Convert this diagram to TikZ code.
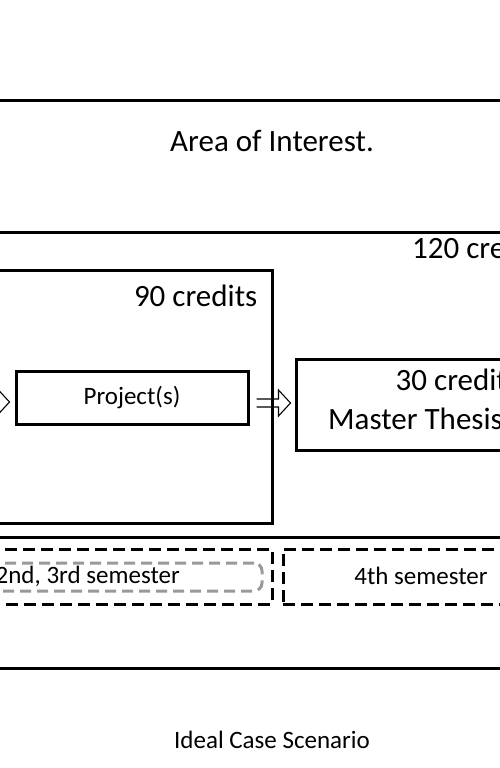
\documentclass[tikz,border=0pt]{standalone}
\usepackage{fontspec}
\setmainfont{Carlito}
\usepackage{tikz}
\usetikzlibrary{arrows.meta, positioning, calc}

\begin{document}
\begin{tikzpicture}[x=1pt, y=-1pt,
    box/.style={rectangle, draw=black, line width=3pt, inner sep=0pt},
    dashbox/.style={rectangle, draw=black, line width=3pt, dash pattern=on 12pt off 6pt, inner sep=0pt},
    greybox/.style={rectangle, draw=black!40, line width=3pt, dash pattern=on 11pt off 6pt, rounded corners=8pt, inner sep=0pt},
    big/.style={font=\fontsize{31}{36}\selectfont, inner sep=0pt},
    small/.style={font=\fontsize{25}{30}\selectfont, inner sep=0pt},
    line/.style={draw=black, line width=1.1pt, line join=miter}
]
    \useasboundingbox (0,0) rectangle (500,768);
    \clip (0,0) rectangle (500,768);

    \node [box, minimum width=604pt, minimum height=132pt] (area) at (272,166) {};
    \node [box, minimum width=604pt, minimum height=305pt] (total) at (272,384.5) {};
    \node [box, small, minimum width=232pt, minimum height=53pt] (proj) at (132,397.5) {\raisebox{-2pt}{Project(s)}};
    \node [box, minimum width=241pt, minimum height=91pt] (thesis) at (416.5,404.5) {};
    \node [box, minimum width=472pt, minimum height=253pt] (c90) at (36,396.5) {};
    \node [box, minimum width=604pt, minimum height=131pt] (sem) at (272,602.5) {};
    \node [dashbox, minimum width=302pt, minimum height=55pt] (sem123) at (121,576.5) {};
    \node [dashbox, small, minimum width=276pt, minimum height=55pt] (sem4) at (421,576.5) {\raisebox{1pt}{4th semester}};
    \node [greybox, minimum width=412pt, minimum height=28pt] (early) at (56,577) {};

    \coordinate (start) at (-20,402);
    \coordinate (pin) at ([xshift=-5pt, yshift=-4.5pt]proj.west);
    \coordinate (pout) at ([xshift=7pt, yshift=-5.5pt]proj.east);
    \coordinate (tin) at ([xshift=-4pt, yshift=1.5pt]thesis.west);
    \foreach \a/\b in {start/pin, pout/tin}
        \path [line] ($(\a)+(0,-4)$) -- ($(\b)+(-12,-4)$) -- ($(\b)+(-12,-13)$) -- (\b)
            -- ($(\b)+(-12,13)$) -- ($(\b)+(-12,4)$) -- ($(\a)+(0,4)$);

    \node [big, anchor=base] (aoi) at ($(area.north)+(0,53)$) {Area of Interest.};
    \node [big, anchor=base west] (cr120) at ($(total.north)+(140,28)$) {120 credits};
    \node [big, anchor=base east] (cr90) at ($(c90.north east)+(-16,38)$) {90 credits};
    \node [big, anchor=base west] (cr30) at ($(thesis.north west)+(101,33)$) {30 credits};
    \node [big, anchor=base] (mt) at ($(thesis.north)+(-1,72)$) {Master Thesis};
    \node [small, anchor=base west] (earlytxt) at ($(early.east)+(-268,6)$) {2nd, 3rd semester};
    \node [small, anchor=base] (caption) at ($(sem.south)+(0,79)$) {Ideal Case Scenario};
\end{tikzpicture}
\end{document}
